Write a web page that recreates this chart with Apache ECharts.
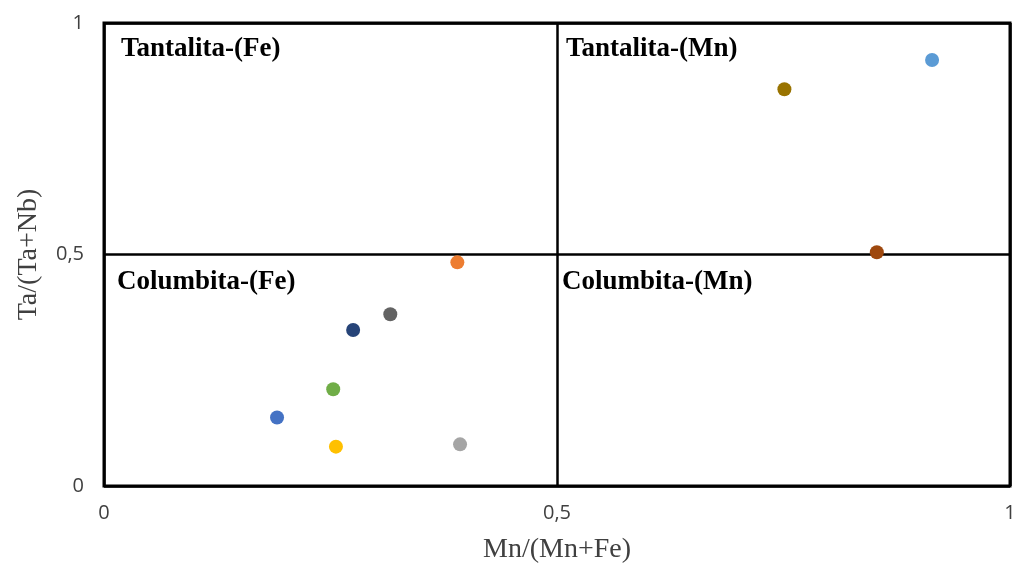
<!DOCTYPE html>
<html>
<head>
<meta charset="utf-8">
<script src="https://cdn.jsdelivr.net/npm/echarts@6/dist/echarts.min.js"></script>
<style>
  html, body { margin: 0; padding: 0; background: #fff; }
  #chart { width: 1015px; height: 563px; }
</style>
</head>
<body>
<div id="chart"></div>
<script>
// muestras: Mn/(Mn+Fe) y Ta/(Ta+Nb)
var xValues = [0.191, 0.390, 0.393, 0.256, 0.914, 0.253, 0.275, 0.853, 0.316, 0.751];
var yValues = [0.148, 0.483, 0.090, 0.085, 0.920, 0.209, 0.337, 0.505, 0.371, 0.857];
var colors = ['#4472C4', '#ED7D31', '#A5A5A5', '#FFC000', '#5B9BD5',
              '#70AD47', '#264478', '#9E480E', '#636363', '#997300'];
var xTicks = ['0', '0,5', '1'];
var yTicks = ['0', '0,5', '1'];
var fields = ['Tantalita-(Fe)', 'Tantalita-(Mn)', 'Columbita-(Fe)', 'Columbita-(Mn)'];

var box = document.getElementById('chart');
var myChart = echarts.init(box);

var series = xValues.map(function (x, i) {
    return {
        type: 'scatter',
        symbolSize: 14,
        itemStyle: { color: colors[i], opacity: 1 },
        data: [[x, yValues[i]]],
        z: 5
    };
});

var tickFmt = function (list) {
    return function (v) {
        return list[Math.round(v * 2)];
    };
};

var labelStyle = {
    fontFamily: 'Liberation Serif',
    fontWeight: 'bold',
    fontSize: 27,
    fill: '#000'
};

var option = {
    animation: false,
    grid: {
        left: 104, right: 5, top: 23, bottom: 77,
        outerBoundsMode: 'none',
        show: true,
        borderColor: '#000',
        borderWidth: 3
    },
    xAxis: {
        type: 'value',
        min: 0, max: 1, interval: 0.5,
        name: 'Mn/(Mn+Fe)',
        nameLocation: 'middle',
        nameGap: 50,
        nameTextStyle: { fontFamily: 'Liberation Serif', fontSize: 28, color: '#404040' },
        axisLine: { show: false },
        axisTick: { show: false },
        axisLabel: {
            margin: 17,
            fontFamily: 'Open Sans', fontSize: 20, color: '#404040',
            formatter: tickFmt(xTicks)
        },
        splitLine: { show: true, lineStyle: { color: '#000', width: 2.5 } }
    },
    yAxis: {
        type: 'value',
        min: 0, max: 1, interval: 0.5,
        name: 'Ta/(Ta+Nb)',
        nameLocation: 'middle',
        nameGap: 61,
        nameTextStyle: { fontFamily: 'Liberation Serif', fontSize: 28, color: '#404040' },
        axisLine: { show: false },
        axisTick: { show: false },
        axisLabel: {
            margin: 20,
            fontFamily: 'Open Sans', fontSize: 20, color: '#404040',
            formatter: tickFmt(yTicks)
        },
        splitLine: { show: true, lineStyle: { color: '#000', width: 2.5 } }
    },
    graphic: [
        { type: 'text', left: 121, top: 36, style: Object.assign({ text: fields[0] }, labelStyle) },
        { type: 'text', left: 566, top: 36, style: Object.assign({ text: fields[1] }, labelStyle) },
        { type: 'text', left: 117, top: 269, style: Object.assign({ text: fields[2] }, labelStyle) },
        { type: 'text', left: 562, top: 269, style: Object.assign({ text: fields[3] }, labelStyle) }
    ],
    series: series
};

myChart.setOption(option);
</script>
</body>
</html>
